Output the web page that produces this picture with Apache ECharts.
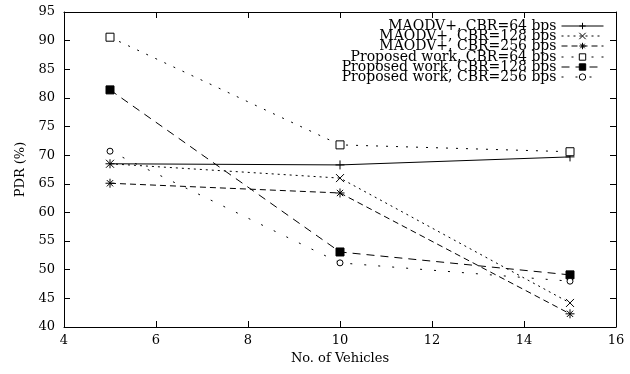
<!DOCTYPE html>
<html>
<head>
<meta charset="utf-8">
<script src="https://cdn.jsdelivr.net/npm/echarts@6/dist/echarts.min.js"></script>
<style>html,body{margin:0;padding:0;background:#fff}#c{width:630px;height:374px}</style>
</head>
<body>
<div id="c"></div>
<script>
var vehicles = [5, 10, 15];
var maodv64 = [68.5, 68.3, 69.7];
var maodv128 = [68.5, 66.0, 44.2];
var maodv256 = [65.1, 63.4, 42.3];
var prop64 = [90.6, 71.8, 70.6];
var prop128 = [81.4, 53.1, 49.1];
var prop256 = [70.7, 51.2, 48.0];
var seriesNames = ['MAODV+, CBR=64 bps', 'MAODV+, CBR=128 bps', 'MAODV+, CBR=256 bps',
  'Proposed work, CBR=64 bps', 'Proposed work, CBR=128 bps', 'Proposed work, CBR=256 bps'];
var xTicks = [4, 6, 8, 10, 12, 14, 16];
var yTicks = [40, 45, 50, 55, 60, 65, 70, 75, 80, 85, 90, 95];

var FONT = 'DejaVu Serif';
var allData = [maodv64, maodv128, maodv256, prop64, prop128, prop256];
var symbols = [
  'path://M0,5L10,5M5,0L5,10',
  'path://M0,0L10,10M10,0L0,10',
  'path://M0,5L10,5M5,0L5,10M1.5,1.5L8.5,8.5M8.5,1.5L1.5,8.5',
  'rect', 'rect', 'circle'
];
var symSizes = [9, 8, 9, 8, 8, 6];
var fills = ['#000', '#000', '#000', '#fff', '#000', '#fff'];
var dashes = ['solid', [2, 4], [6, 4], [2, 8], [8, 6], [2, 12]];

function pairs(arr) { return vehicles.map(function (v, i) { return [v, arr[i]]; }); }

var series = allData.map(function (d, i) {
  return {
    name: seriesNames[i], type: 'line', data: pairs(d),
    xAxisIndex: 0, yAxisIndex: 0,
    symbol: symbols[i], symbolSize: symSizes[i], showSymbol: true,
    lineStyle: { color: '#000', width: 1, type: dashes[i] },
    itemStyle: { color: fills[i], borderColor: '#000', borderWidth: 1 },
    emphasis: { disabled: true }, animation: false
  };
});

var legendTops = [19, 29, 39, 50, 60, 70];
var legends = seriesNames.map(function (n, i) {
  return {
    data: [n], orient: 'vertical', right: 26, top: legendTops[i], padding: 0,
    align: 'right', itemWidth: 42, itemHeight: 8, itemGap: 0,
    lineStyle: { width: 1 },
    itemStyle: { borderWidth: 1, borderColor: '#000', color: fills[i] },
    textStyle: { fontFamily: FONT, fontSize: 14, color: '#000', lineHeight: 12 },
    selectedMode: false
  };
});

var axisCommon = {
  axisLine: { show: true, lineStyle: { color: '#000', width: 1 } },
  axisTick: { show: true, inside: true, length: 6, lineStyle: { color: '#000' } },
  splitLine: { show: false }
};

var option = {
  backgroundColor: '#fff',
  animation: false,
  grid: { left: 64, right: 14, top: 12, bottom: 47 },
  legend: legends,
  xAxis: [
    Object.assign({}, axisCommon, {
      type: 'value', min: xTicks[0], max: xTicks[xTicks.length - 1], interval: 2,
      position: 'bottom',
      name: 'No. of Vehicles', nameLocation: 'middle', nameGap: 25,
      nameTextStyle: { fontFamily: FONT, fontSize: 13, color: '#000' },
      axisLabel: { fontFamily: FONT, fontSize: 13, color: '#000', margin: 7 }
    }),
    Object.assign({}, axisCommon, {
      type: 'value', min: xTicks[0], max: xTicks[xTicks.length - 1], interval: 2,
      position: 'top', axisLabel: { show: false }
    })
  ],
  yAxis: [
    Object.assign({}, axisCommon, {
      type: 'value', min: yTicks[0], max: yTicks[yTicks.length - 1], interval: 5,
      position: 'left',
      name: 'PDR (%)', nameLocation: 'middle', nameGap: 34,
      nameTextStyle: { fontFamily: FONT, fontSize: 13, color: '#000' },
      axisLabel: { fontFamily: FONT, fontSize: 13, color: '#000', margin: 9 }
    }),
    Object.assign({}, axisCommon, {
      type: 'value', min: yTicks[0], max: yTicks[yTicks.length - 1], interval: 5,
      position: 'right', axisLabel: { show: false }
    })
  ],
  series: series
};

var chart = echarts.init(document.getElementById('c'), null, { renderer: 'canvas' });
chart.setOption(option);
</script>
</body>
</html>
